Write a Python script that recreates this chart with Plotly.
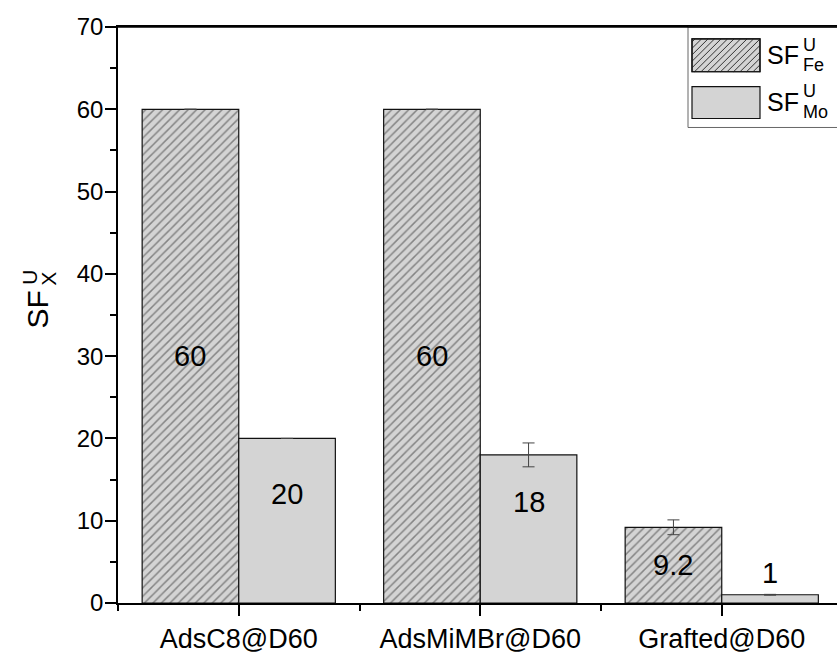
import plotly.graph_objects as go

# ---------------- data ----------------
categories = ["AdsC8@D60", "AdsMiMBr@D60", "Grafted@D60"]
sf_fe = [60, 60, 9.2]
sf_mo = [20, 18, 1]
err_fe = [None, None, 0.9]
err_mo = [None, 1.45, 0.05]
label_fe = ["60", "60", "9.2"]
label_mo = ["20", "18", "1"]
label_y_fe = [30, 30, 4.6]
label_y_mo = [13.2, 12.3, 3.6]
y_ticks = [0, 10, 20, 30, 40, 50, 60, 70]

FONT = "Liberation Sans, Arial, sans-serif"
W, H = 837, 654
L, R, T, B = 118, 837, 27, 606
PW, PH = R - L, B - T


def px(x):
    return (x - L) / PW


def py(y):
    return (B - y) / PH


xpos = list(range(len(categories)))
fill = "#d4d4d4"

fig = go.Figure()
fig.add_trace(go.Bar(
    x=xpos, y=sf_fe, name="SF Fe",
    marker=dict(color=fill, line=dict(color="#111", width=1.2),
                pattern=dict(shape="/", fgcolor="#333333", size=6, solidity=0.25, fillmode="overlay")),
    error_y=dict(type="data", array=err_fe, color="#444", thickness=1, width=6, visible=True),
    showlegend=False,
))
fig.add_trace(go.Bar(
    x=xpos, y=sf_mo, name="SF Mo",
    marker=dict(color=fill, line=dict(color="#111", width=1.2)),
    error_y=dict(type="data", array=err_mo, color="#444", thickness=1, width=6, visible=True),
    showlegend=False,
))

annotations = []
for i in range(len(categories)):
    annotations.append(dict(x=xpos[i] - 0.2, y=label_y_fe[i], xref="x", yref="y", text=label_fe[i],
                            showarrow=False, font=dict(family=FONT, size=29, color="black"),
                            xanchor="center", yanchor="middle"))
    annotations.append(dict(x=xpos[i] + 0.2, y=label_y_mo[i], xref="x", yref="y", text=label_mo[i],
                            showarrow=False, font=dict(family=FONT, size=29, color="black"),
                            xanchor="center", yanchor="middle"))


def ann(text, x, y, size, xanchor="left", angle=0):
    annotations.append(dict(x=px(x), y=py(y), xref="paper", yref="paper", text=text, showarrow=False,
                            font=dict(family=FONT, size=size, color="black"), textangle=angle,
                            xanchor=xanchor, yanchor="middle"))


# y-axis title SF_X^U
ann("SF", 38, 311, 30, xanchor="center", angle=-90)
ann("U", 30, 279, 21, xanchor="center", angle=-90)
ann("X", 49, 280, 21, xanchor="center", angle=-90)

# legend texts
ann("SF", 765, 55.5, 25)
ann("U", 801, 45.5, 18)
ann("Fe", 801, 65.5, 18)
ann("SF", 765, 102, 25)
ann("U", 801, 91.5, 18)
ann("Mo", 801, 112.5, 18)

shapes = []
# legend box as an open path (its right edge lies outside the picture)
shapes.append(dict(type="path", xref="paper", yref="paper",
                   path=f"M{px(900):.5f},{py(27):.5f} L{px(688):.5f},{py(27):.5f} "
                        f"L{px(688):.5f},{py(128):.5f} L{px(900):.5f},{py(128):.5f}",
                   line=dict(color="#666", width=1), fillcolor="white", layer="above"))
# swatches
sx0, sx1 = 692, 760
for (y0, y1) in [(39, 72), (87, 119)]:
    shapes.append(dict(type="rect", xref="paper", yref="paper", x0=px(sx0), x1=px(sx1), y0=py(y1), y1=py(y0),
                       line=dict(color="#111", width=1.2), fillcolor=fill, layer="above"))
# hatch for Fe swatch
hy0, hy1 = 39, 72
segs = []
c = sx0 + hy0 + 3
while c < sx1 + hy1:
    ylo = max(hy0, c - sx1)
    yhi = min(hy1, c - sx0)
    if ylo < yhi:
        segs.append(f"M{px(c - ylo):.5f},{py(ylo):.5f} L{px(c - yhi):.5f},{py(yhi):.5f}")
    c += 6.5
shapes.append(dict(type="path", xref="paper", yref="paper", path=" ".join(segs),
                   line=dict(color="#333", width=1), layer="above"))
# redraw swatch outline on top
shapes.append(dict(type="rect", xref="paper", yref="paper", x0=px(sx0), x1=px(sx1), y0=py(72), y1=py(39),
                   line=dict(color="#111", width=1.2), fillcolor="rgba(0,0,0,0)", layer="above"))
# top frame line over legend box
shapes.append(dict(type="line", xref="paper", yref="paper", x0=0, x1=px(900), y0=1, y1=1,
                   line=dict(color="black", width=1.6), layer="above"))

fig.update_layout(
    width=W, height=H,
    margin=dict(l=L, r=W - R, t=T, b=H - B, pad=0),
    paper_bgcolor="white", plot_bgcolor="white",
    barmode="group", bargap=0.2, bargroupgap=0,
    showlegend=False,
    annotations=annotations, shapes=shapes,
    font=dict(family=FONT, color="black"),
)
fig.update_xaxes(
    range=[-0.5, -0.5 + PW / 241.5], tickmode="array", tickvals=xpos, ticktext=categories,
    ticks="outside", ticklen=11, tickwidth=1.5, tickcolor="black",
    minor=dict(tickvals=[-0.5, 0.5, 1.5], ticks="outside", ticklen=6, tickwidth=1.5, tickcolor="black"),
    showline=True, linecolor="black", linewidth=1.6, mirror=True,
    showgrid=False, zeroline=False,
    tickfont=dict(family=FONT, size=27, color="black"),
)
fig.update_yaxes(
    range=[0, 70], tickmode="array", tickvals=y_ticks,
    ticks="outside", ticklen=11, tickwidth=1.5, tickcolor="black",
    minor=dict(dtick=5, tick0=0, ticks="outside", ticklen=6, tickwidth=1.5, tickcolor="black"),
    showline=True, linecolor="black", linewidth=1.6,
    showgrid=False, zeroline=False,
    tickfont=dict(family=FONT, size=24, color="black"), ticklabelstandoff=-3,
)

fig.write_html("out.html", config={"displayModeBar": False},
               post_script="document.body.style.margin='0px';document.body.style.padding='0px';"
                           "document.body.style.overflow='hidden';")
